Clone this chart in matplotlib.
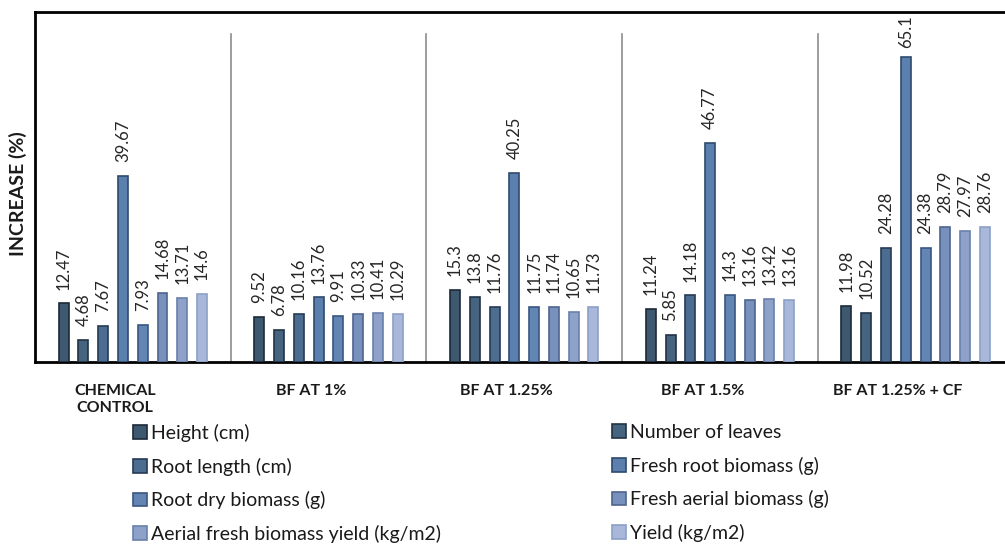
import matplotlib
matplotlib.use("Agg")
import matplotlib.pyplot as plt
from matplotlib.patches import Patch
from matplotlib.transforms import offset_copy
import numpy as np

plt.rcParams['font.family'] = ['Lato', 'DejaVu Sans']

groups = ["CHEMICAL\nCONTROL", "BF AT 1%", "BF AT 1.25%", "BF AT 1.5%", "BF AT 1.25% + CF"]
series = ["Height (cm)", "Number of leaves", "Root length (cm)", "Fresh root biomass (g)",
          "Root dry biomass (g)", "Fresh aerial biomass (g)",
          "Aerial fresh biomass yield (kg/m2)", "Yield (kg/m2)"]

height_cm = [12.47, 9.52, 15.3, 11.24, 11.98]
leaves = [4.68, 6.78, 13.8, 5.85, 10.52]
root_length = [7.67, 10.16, 11.76, 14.18, 24.28]
fresh_root = [39.67, 13.76, 40.25, 46.77, 65.1]
root_dry = [7.93, 9.91, 11.75, 14.3, 24.38]
fresh_aerial = [14.68, 10.33, 11.74, 13.16, 28.79]
aerial_yield = [13.71, 10.41, 10.65, 13.42, 27.97]
yield_kg = [14.6, 10.29, 11.73, 13.16, 28.76]

values = [height_cm, leaves, root_length, fresh_root, root_dry, fresh_aerial, aerial_yield, yield_kg]

faces = ["#3e5870", "#46637f", "#4d6d90", "#5b80ad", "#6385b4", "#7890bc", "#8ea2c9", "#a9b8da"]
edges = ["#1c2a38", "#213345", "#263a55", "#2e4a6e", "#3a5680", "#4e6590", "#6a80aa", "#8c9fc6"]

W, H = 1005, 544
fig = plt.figure(figsize=(W / 100, H / 100), dpi=100)
ax = fig.add_axes([35 / W, 1 - 362 / H, 970 / W, 350 / H])

gw = 195.7
ax.set_xlim(-0.5, -0.5 + 970 / gw)
ax.set_ylim(0, 74.6)

pitch = 0.101
bw = 0.051
x = np.arange(len(groups))
labels = []
for i, (vals, fc, ec) in enumerate(zip(values, faces, edges)):
    xs = x + (i - 3.5) * pitch
    ax.bar(xs, vals, width=bw, color=fc, edgecolor=ec, linewidth=1.2, zorder=3)
    for xx, v in zip(xs, vals):
        t = ax.annotate(f"{v:g}", (xx, v), xytext=(0, 10), textcoords="offset points",
                        rotation=90, ha="center", va="bottom", fontsize=12, color="#262626")
        labels.append(t)

# keep labels inside the plot area (like the spreadsheet does)
fig.canvas.draw()
r = fig.canvas.get_renderer()
ax_top = ax.get_window_extent(r).y1 - 3
for t in labels:
    bb = t.get_window_extent(r)
    if bb.y1 > ax_top:
        shift_pt = (bb.y1 - ax_top) * 72 / fig.dpi
        x0, y0 = t.xyann
        t.xyann = (x0, y0 - shift_pt)

for s in [0.5, 1.5, 2.5, 3.5]:
    ax.plot([s, s], [0, 70], color="#8c8c8c", lw=1.2, zorder=2)

for side in ["left", "top", "bottom"]:
    ax.spines[side].set_linewidth(2)
    ax.spines[side].set_color("black")
ax.spines["right"].set_visible(False)
ax.set_xticks([])
ax.set_yticks([])

for xi, g in zip(x, groups):
    ax.text(xi - 0.09, -4.6, g, ha="center", va="top", fontsize=11.5, fontweight="bold",
            color="#1a1a1a", linespacing=1.3)

fig.text(18 / W, 1 - 194 / H, "INCREASE (%)", rotation=90, ha="center", va="center",
         fontsize=14, fontweight="bold", color="#1a1a1a")

handles = [Patch(facecolor=fc, edgecolor=ec, linewidth=1.2) for fc, ec in zip(faces, edges)]
left_idx = [0, 2, 4, 6]
right_idx = [1, 3, 5, 7]
for idx, xpx in [(left_idx, 133), (right_idx, 612)]:
    leg = fig.legend([handles[k] for k in idx], [series[k] for k in idx],
                     loc="upper left", bbox_to_anchor=(xpx / W, 1 - 424 / H),
                     frameon=False, fontsize=14, handlelength=0.7, handleheight=0.7,
                     handletextpad=0.25, labelspacing=0.8, borderpad=0, borderaxespad=0)
    for t in leg.get_texts():
        t.set_color("#1a1a1a")

fig.savefig("out.png", dpi=100)
